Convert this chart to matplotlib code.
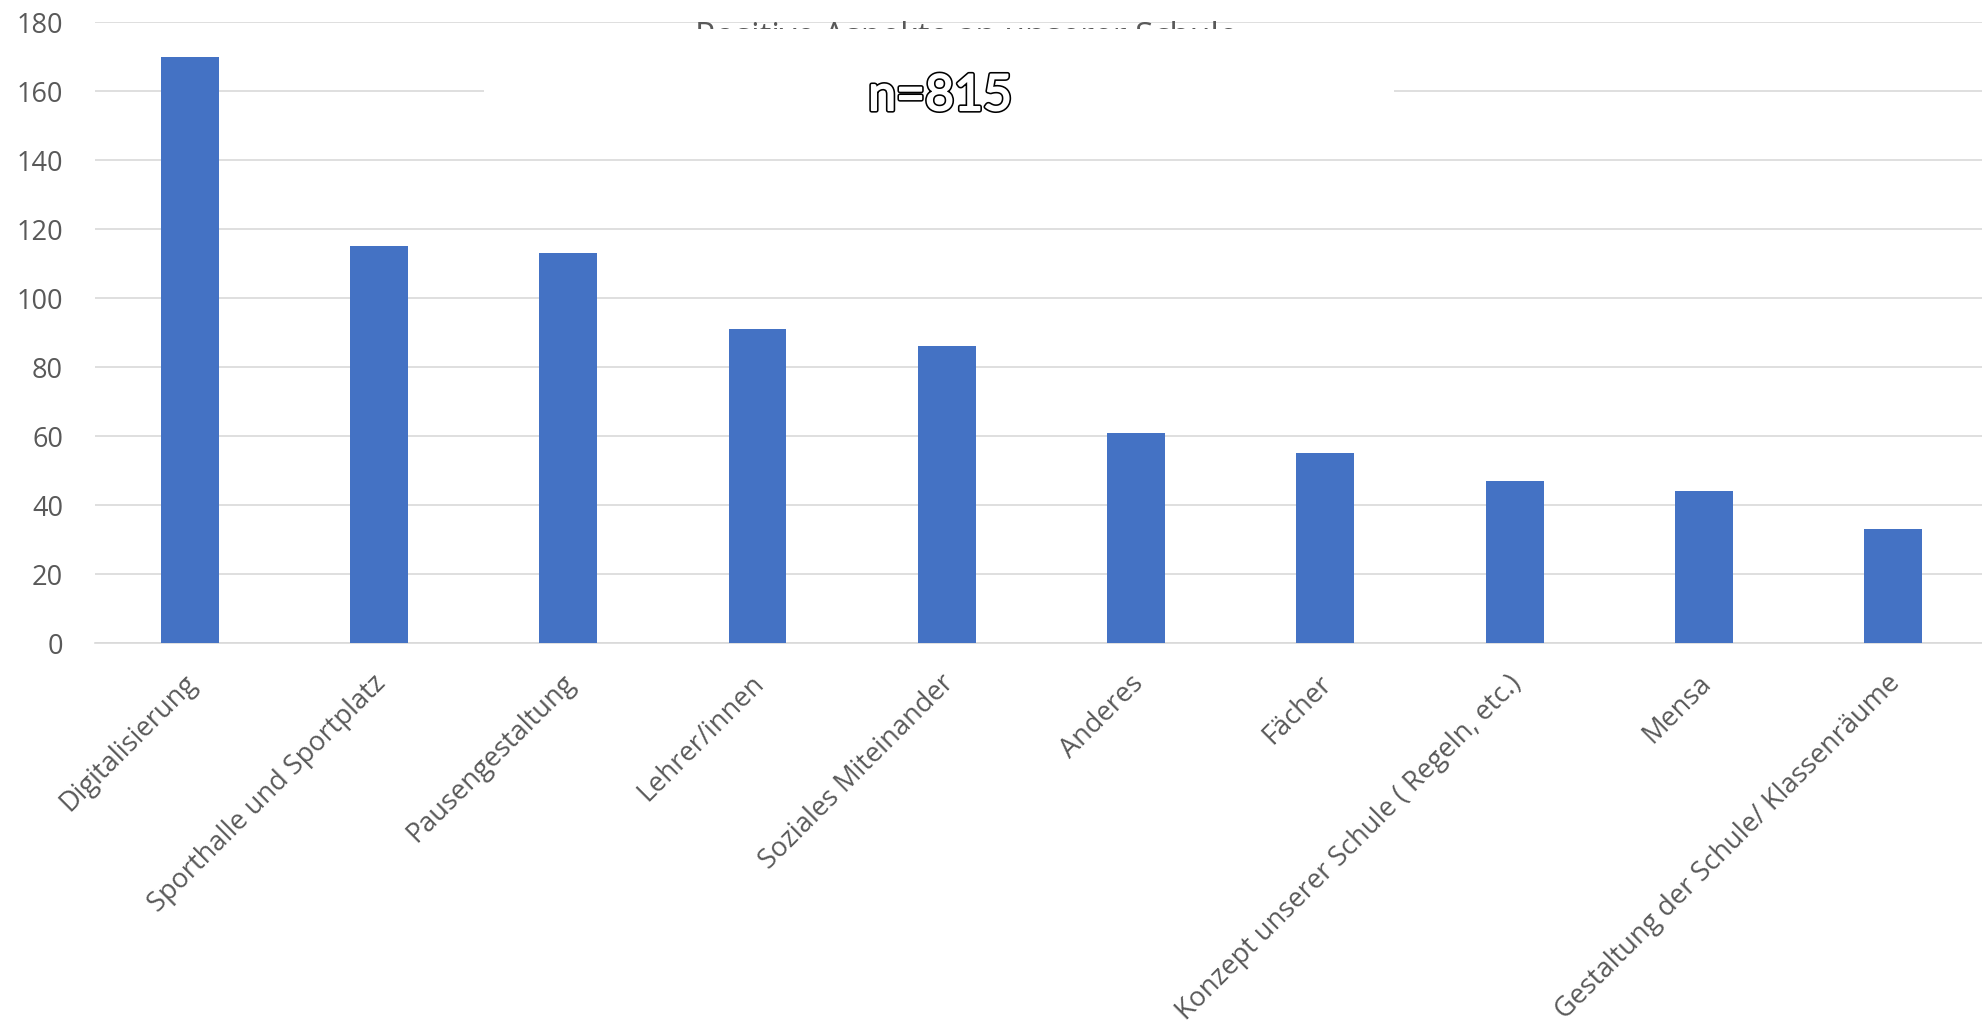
import matplotlib
matplotlib.use("Agg")
import matplotlib.pyplot as plt
import matplotlib.patheffects as pe
from matplotlib.patches import Rectangle
from matplotlib.transforms import ScaledTranslation

categories = ["Digitalisierung", "Sporthalle und Sportplatz", "Pausengestaltung",
              "Lehrer/innen", "Soziales Miteinander", "Anderes", "Fächer",
              "Konzept unserer Schule ( Regeln, etc.)", "Mensa",
              "Gestaltung der Schule/ Klassenräume"]
values = [170, 115, 113, 91, 86, 61, 55, 47, 44, 33]
yticks = [0, 20, 40, 60, 80, 100, 120, 140, 160, 180]
title = "Positive Aspekte an unserer Schule"
note = "n=815"

plt.rcParams['font.family'] = ['Open Sans', 'DejaVu Sans']
TXT = '#595959'
GRID = '#D9D9D9'
BAR = '#4472C4'

fig = plt.figure(figsize=(19.82, 10.30), dpi=100)
ax = fig.add_axes([0.0479, 0.3757, 0.9551, 0.6029])

x = list(range(len(categories)))
ax.bar(x, values, width=0.306, color=BAR, zorder=3)
ax.set_xlim(-0.5, len(categories) - 0.5)
ax.set_ylim(0, 180)
ax.set_yticks(yticks)
ax.set_yticklabels([str(v) for v in yticks])
ax.grid(axis='y', color=GRID, linewidth=1.2, zorder=0)
ax.set_axisbelow(True)
for s in ['top', 'right', 'left']:
    ax.spines[s].set_visible(False)
ax.spines['bottom'].set_color(GRID)
ax.spines['bottom'].set_linewidth(1.2)
ax.tick_params(axis='y', length=0, colors=TXT, labelsize=19.5, pad=23)
ax.tick_params(axis='x', length=0, colors=TXT, labelsize=19.5, pad=19)
ax.set_xticks(x)
ax.set_xticklabels(categories, rotation=45, ha='right', rotation_mode='anchor')
off = ScaledTranslation(-7 / 100, 0, fig.dpi_scale_trans)
for lab in ax.get_xticklabels():
    lab.set_transform(lab.get_transform() + off)

# title (mostly hidden behind white box)
fig.text(0.4874, 0.955, title, ha='center', va='baseline', fontsize=24, color=TXT,
         zorder=0.9)
fig.patches.append(Rectangle((0.2442, 0.864), 0.4591, 0.1078, transform=fig.transFigure,
                             facecolor='white', edgecolor='none', zorder=1))
fig.text(0.4743, 0.893, note, ha='center', va='baseline', fontsize=36,
         family=['Lato', 'DejaVu Sans'], color='white', zorder=2,
         path_effects=[pe.Stroke(linewidth=3.5, foreground='black'),
                       pe.Stroke(linewidth=1.2, foreground='white'),
                       pe.Normal()])

fig.savefig("out.png", dpi=100)
